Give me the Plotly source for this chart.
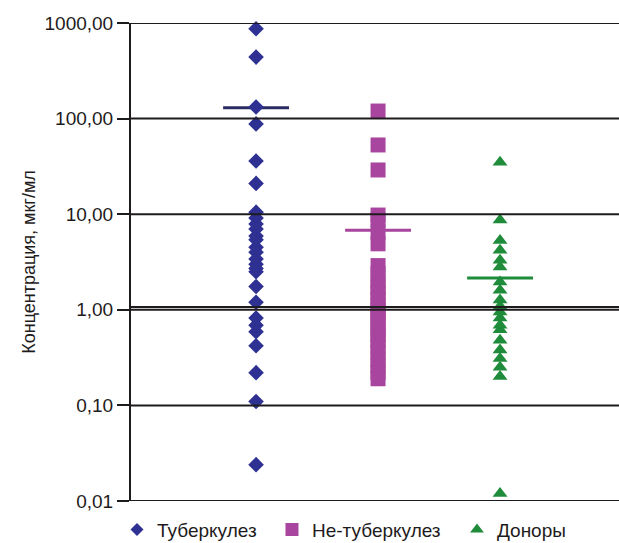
import plotly.graph_objects as go

categories = ["Туберкулез", "Не-туберкулез", "Доноры"]
tb_values = [870, 440, 132, 88, 36, 21, 10.5, 9.1, 7.9, 7.0, 5.9, 5.4, 4.5, 4.0,
             3.4, 3.0, 2.7, 2.5, 1.75, 1.2, 0.82, 0.69, 0.59, 0.42, 0.22, 0.11, 0.024]
non_tb_values = [120, 53, 29, 9.8, 8.7, 6.5, 4.9, 2.9, 2.4, 2.0, 1.7, 1.5, 1.3, 1.1,
                 1.0, 0.9, 0.8, 0.7, 0.62, 0.55, 0.48, 0.42, 0.36, 0.3, 0.26, 0.22, 0.19]
donor_values = [35, 8.7, 5.3, 4.2, 3.3, 2.8, 1.95, 1.6, 1.27, 1.09, 0.95, 0.82, 0.69,
                0.62, 0.48, 0.38, 0.31, 0.25, 0.2, 0.012]
group_means = [130, 6.8, 2.15]
threshold = 1.07
tick_values = [0.01, 0.1, 1, 10, 100, 1000]
tick_labels = ["0,01", "0,10", "1,00", "10,00", "100,00", "1000,00"]

series = [tb_values, non_tb_values, donor_values]
colors = ["#2e3192", "#a8459f", "#1f8c3b"]
mean_colors = ["#2b2b63", "#a8459f", "#1f8c3b"]
symbols = ["diamond", "square", "triangle-up"]
sizes = [12, 15, 13]
legend_sizes = [10, 13, 12]
legend_ids = ["legend", "legend2", "legend3"]
legend_x = [-0.0287, 0.2889, 0.668]
TXT = "#1e1b1c"
FONT = "Liberation Sans, Arial, sans-serif"

fig = go.Figure()
half = 0.27
for i, (name, vals) in enumerate(zip(categories, series)):
    fig.add_trace(go.Scatter(
        x=[i - half, i + half], y=[group_means[i]] * 2, mode="lines",
        line=dict(color=mean_colors[i], width=3), showlegend=False,
        hoverinfo="skip", cliponaxis=False))
for i, (name, vals) in enumerate(zip(categories, series)):
    fig.add_trace(go.Scatter(
        x=[i] * len(vals), y=vals, mode="markers", name=name,
        marker=dict(symbol=symbols[i], size=sizes[i], color=colors[i],
                    line=dict(width=0)),
        showlegend=False, cliponaxis=False))
    # legend-only entry with the smaller key symbol
    fig.add_trace(go.Scatter(
        x=[None], y=[None], mode="markers", name=name, legend=legend_ids[i],
        marker=dict(symbol=symbols[i], size=legend_sizes[i], color=colors[i],
                    line=dict(width=0)),
        showlegend=True, hoverinfo="skip"))

shapes = []
for t in tick_values + [threshold]:
    shapes.append(dict(type="line", xref="paper", yref="y", x0=0, x1=1,
                       y0=t, y1=t, layer="above",
                       line=dict(color=TXT, width=2)))

legend_common = dict(orientation="h", xanchor="left", y=-0.06, yanchor="middle",
                     font=dict(size=19, color=TXT), bgcolor="rgba(0,0,0,0)")

fig.update_layout(
    width=619, height=543,
    margin=dict(l=131, r=0, t=23, b=42, autoexpand=False),
    paper_bgcolor="white", plot_bgcolor="white",
    font=dict(family=FONT, color=TXT, size=18),
    shapes=shapes,
    showlegend=True,
    legend=dict(x=legend_x[0], **legend_common),
    legend2=dict(x=legend_x[1], **legend_common),
    legend3=dict(x=legend_x[2], **legend_common),
    xaxis=dict(range=[-1.025, 2.975], showticklabels=False, showgrid=False,
               zeroline=False, showline=False, ticks="", automargin=False),
    yaxis=dict(type="log", range=[-2, 3], tickvals=tick_values,
               ticktext=tick_labels, showgrid=False, zeroline=False,
               showline=True, linecolor=TXT, linewidth=2, automargin=False,
               ticks="outside", ticklen=12, tickwidth=2, tickcolor=TXT,
               tickfont=dict(size=19, color=TXT),
               title=dict(text="Концентрация, мкг/мл", font=dict(size=18, color=TXT),
                          standoff=4)),
)

fig.write_html("out.html", config={"displayModeBar": False},
               post_script="document.body.style.margin='0';document.body.style.overflow='hidden';")
